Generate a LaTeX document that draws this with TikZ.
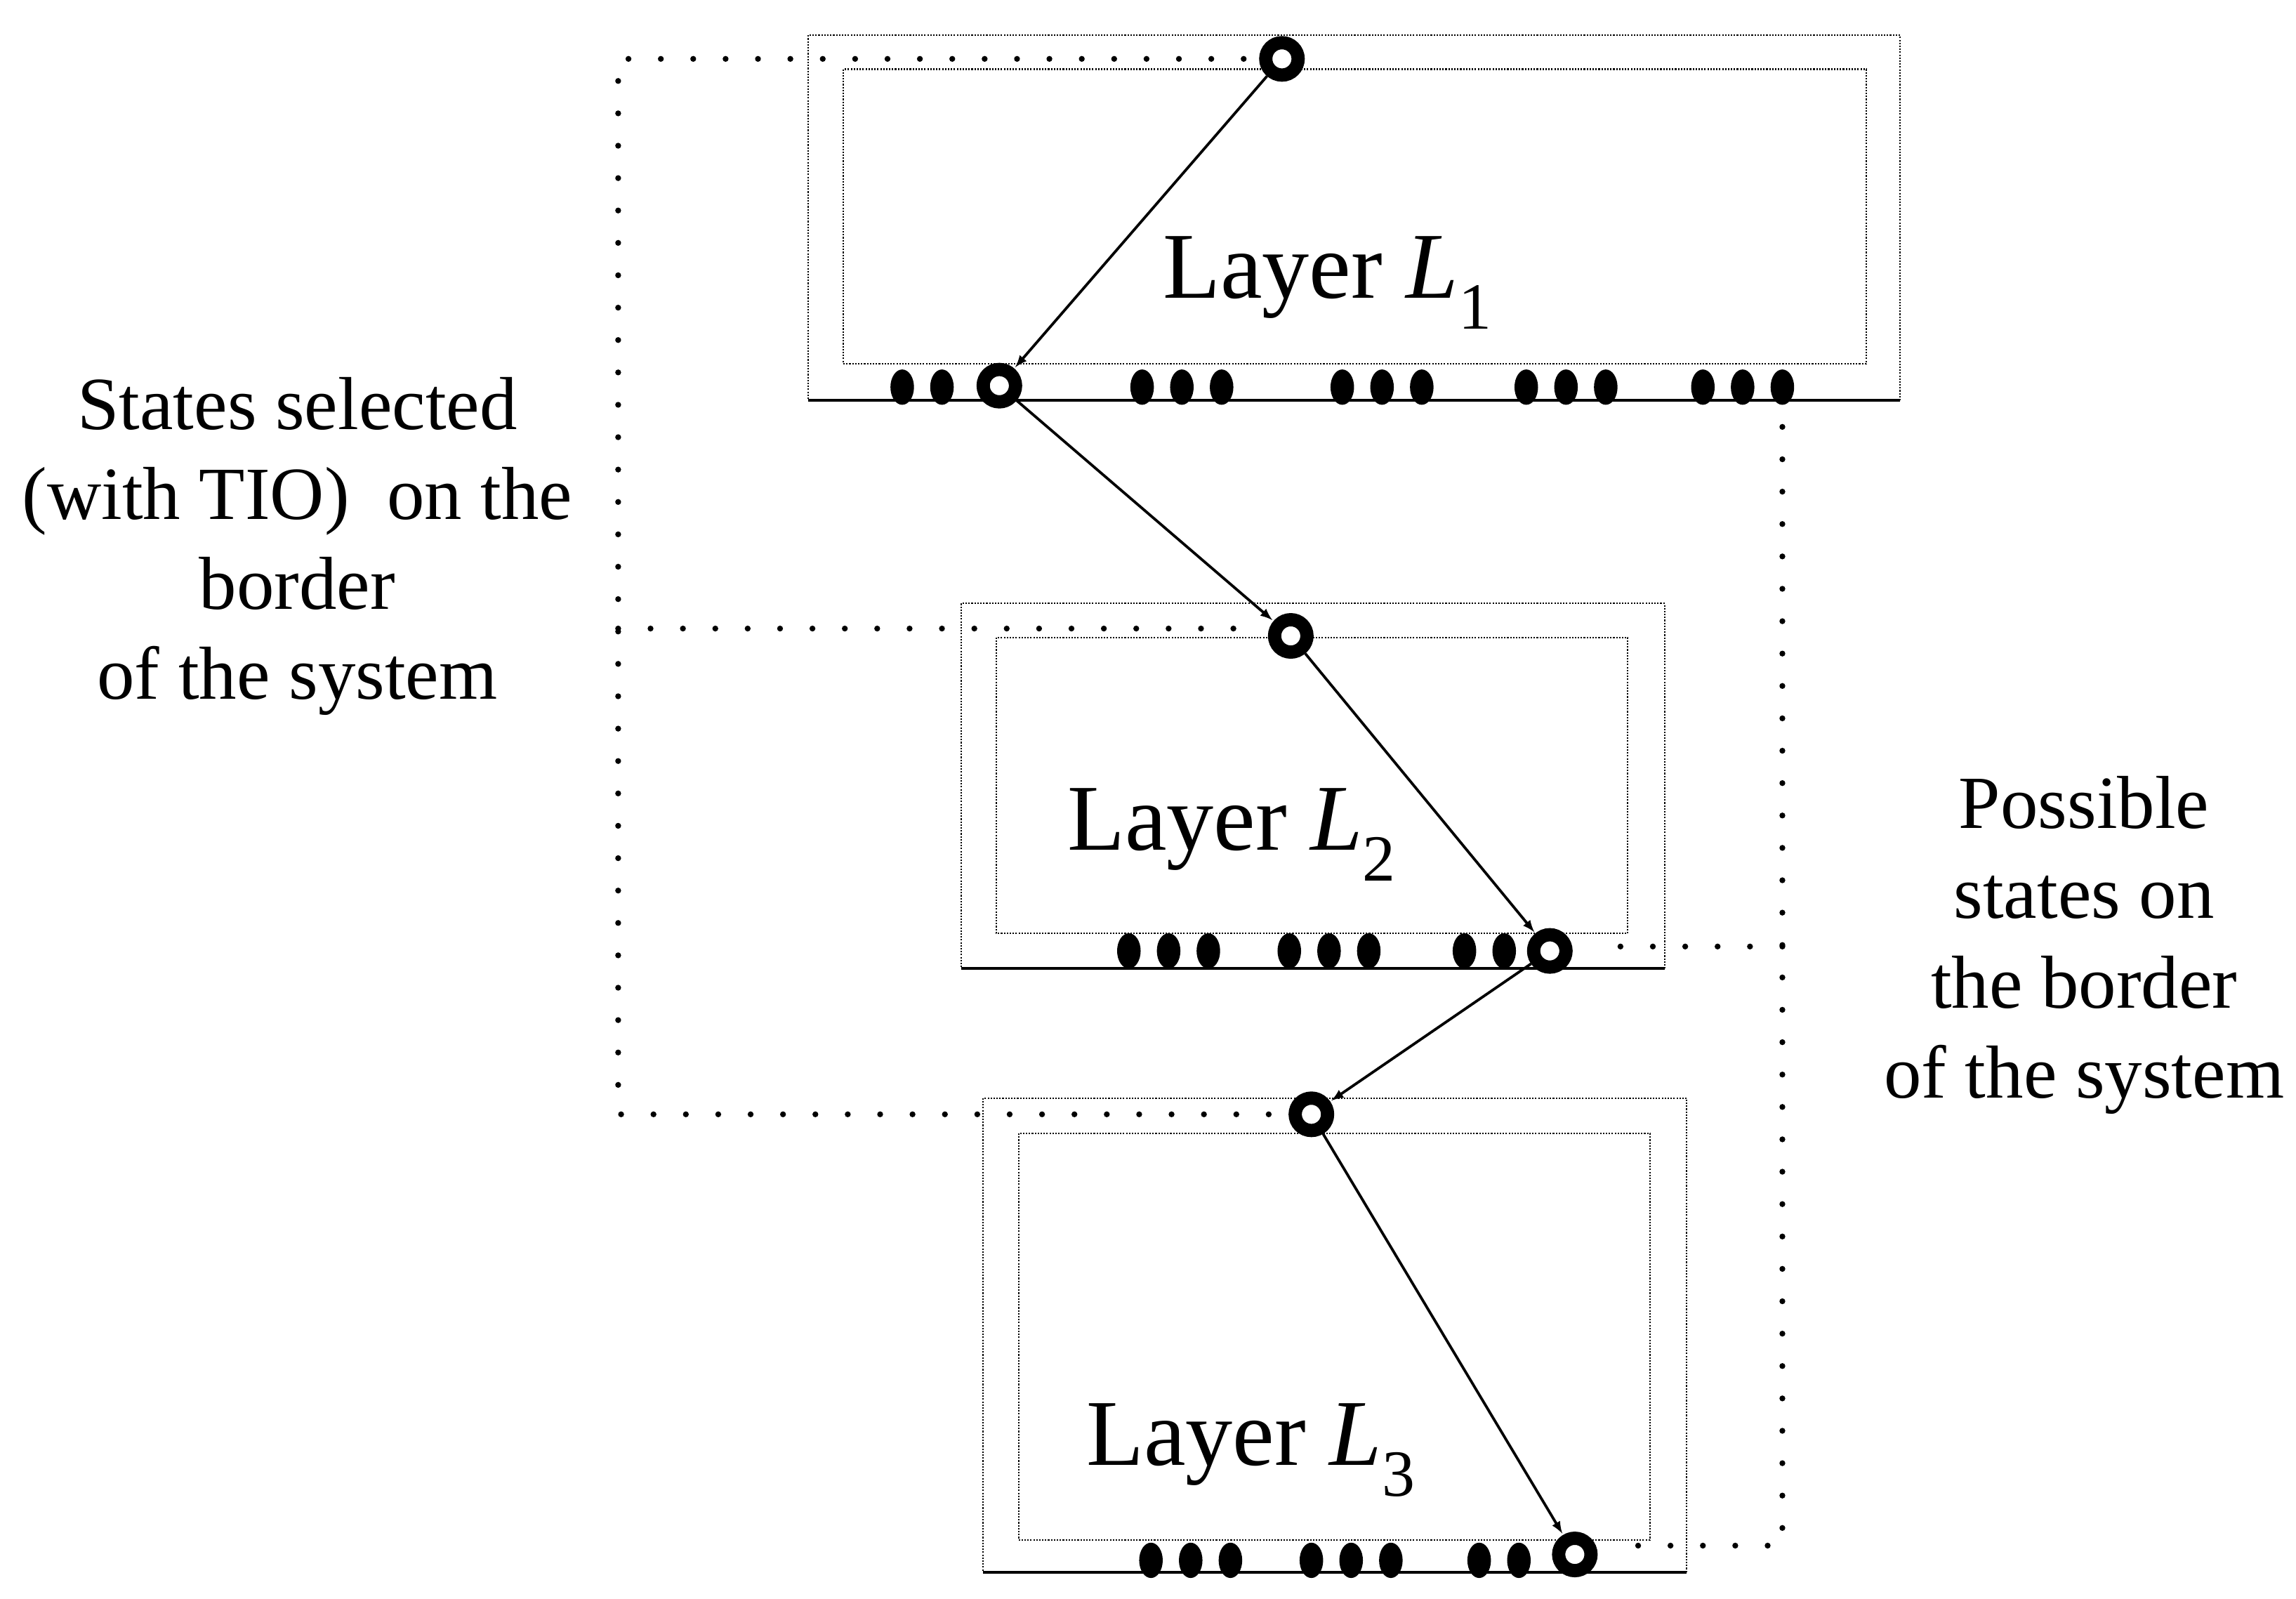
\documentclass[tikz,border=0pt]{standalone}
\usepackage{fontspec}
\usetikzlibrary{shapes.geometric}
\setmainfont{Liberation Serif}
\begin{document}
\begin{tikzpicture}[x=1pt,y=-1pt,
  outer/.style={draw, densely dotted, line width=1pt},
  inner/.style={draw, densely dotted, line width=1pt},
  ring/.style={circle, draw, line width=9pt, minimum size=22pt, inner sep=0pt, fill=white},
  st/.style={ellipse, fill=black, minimum width=16pt, minimum height=24pt, inner sep=0pt},
  conn/.style={line width=4pt, dash pattern=on 0pt off 22pt, line cap=round},
  arr/.style={-latex, line width=1.8pt, shorten >=1pt},
  lbl/.style={font=\fontsize{51}{61}\selectfont, align=center},
  lay/.style={font=\fontsize{64}{70}\selectfont}]
\useasboundingbox (0,0) rectangle (1560,1086);
% boxes
\draw[outer] (549,24) rectangle (1291,272);
\draw[inner] (573,47) rectangle (1268,247);
\draw[line width=2pt] (549,272) -- (1291,272);
\draw[outer] (653,410) rectangle (1131,658);
\draw[inner] (677,433) rectangle (1106,634);
\draw[line width=2pt] (653,658) -- (1131,658);
\draw[outer] (668,746) rectangle (1146,1068);
\draw[inner] (692,770) rectangle (1121,1046);
\draw[line width=2pt] (668,1068) -- (1146,1068);
% dotted connectors
\coordinate (lt) at (420,40);
\coordinate (lb) at (420,757);
\coordinate (lm) at (420,427);
\coordinate (lme) at (850,427);
\coordinate (lte) at (845,40);
\coordinate (lbe) at (868,757);
\coordinate (rt) at (1211,290);
\coordinate (rb) at (1211,1050);
\coordinate (rbe) at (1100,1050);
\coordinate (rm) at (1211,643);
\coordinate (rme) at (1080,643);
\draw[conn] (lte) -- (lt) -- (lb) -- (lbe);
\draw[conn] (lm) -- (lme);
\draw[conn] (rt) -- (rb) -- (rbe);
\draw[conn] (rm) -- (rme);
% states
\foreach \x in {613,640,776,803,830,912,939,966,1037,1064,1091,1157,1184,1211}
  \node[st] at (\x,263) {};
\foreach \x in {767,794,821,876,903,930,995,1022}
  \node[st] at (\x,646) {};
\foreach \x in {782,809,836,891,918,945,1005,1032}
  \node[st] at (\x,1060) {};
% rings
\node[ring] (a) at (871,40) {};
\node[ring] (b) at (679,262) {};
\node[ring] (c) at (877,432) {};
\node[ring] (d) at (1053,646) {};
\node[ring] (e) at (891,757) {};
\node[ring] (f) at (1070,1056) {};
\draw[arr] (a) -- (b);
\draw[arr] (b) -- (c);
\draw[arr] (c) -- (d);
\draw[arr] (d) -- (e);
\draw[arr] (e) -- (f);
% labels
\node[lay] (l1) at (902,192) {Layer \textit{L}\textsubscript{1}};
\node[lay] (l2) at (837,567) {Layer \textit{L}\textsubscript{2}};
\node[lay] (l3) at (850,985) {Layer \textit{L}\textsubscript{3}};
\node[lbl] (tl) at (202,371) {States selected\\(with TIO)\ \ on the\\border\\of the system};
\node[lbl] (tr) at (1416,642) {Possible\\states on\\the border\\of the system};
\end{tikzpicture}
\end{document}
